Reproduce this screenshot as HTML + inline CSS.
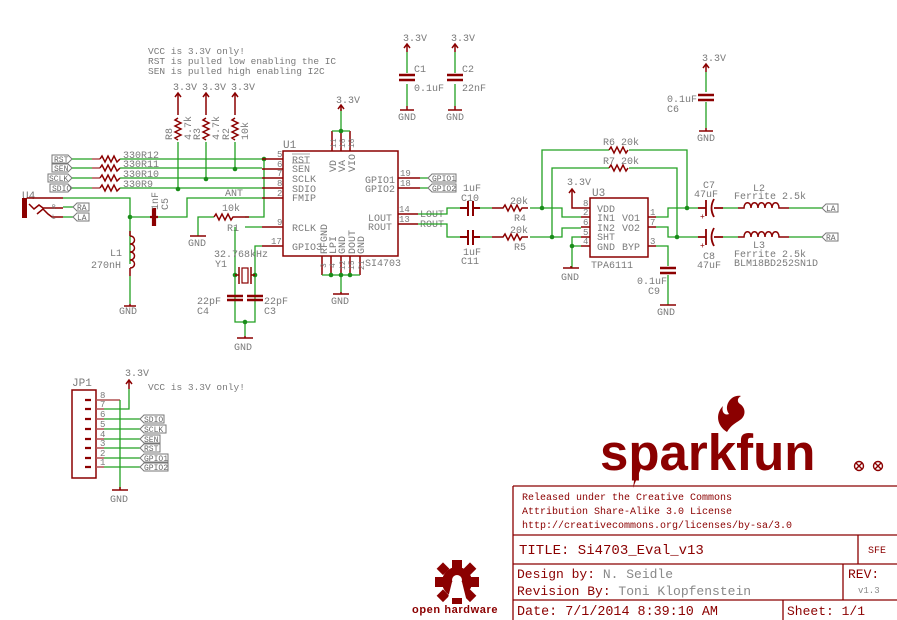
<!DOCTYPE html>
<html><head><meta charset="utf-8"><style>
html,body{margin:0;padding:0;background:#fff;}
svg{display:block;}
text{font-family:"Liberation Mono",monospace;fill:#7a7a7a;font-size:10px;}
.r{fill:none;stroke:#8b0000;stroke-width:1.5;}
.g{fill:none;stroke:#22a022;stroke-width:1.3;}
.p{fill:none;stroke:#b05050;stroke-width:1.5;}
.d{fill:#1a8c1a;}
.fl{fill:#fff;stroke:#777;stroke-width:1;}
.fs{font-size:8px;fill:#666;}
.k{fill:#8b0000;}
.tb text{fill:#8b0000;}
</style></head><body>
<svg width="897" height="620" viewBox="0 0 897 620" xmlns="http://www.w3.org/2000/svg">
<!-- notes -->
<text x="148" y="54" style="font-size:9.5px">VCC is 3.3V only!</text>
<text x="148" y="64" style="font-size:9.5px">RST is pulled low enabling the IC</text>
<text x="148" y="74" style="font-size:9.5px">SEN is pulled high enabling I2C</text>

<!-- pullups -->
<g>
<text x="173" y="90">3.3V</text><text x="202" y="90">3.3V</text><text x="231" y="90">3.3V</text>
<path class="r" d="M178 93v22M175 97l3-4 3 4M206 93v22M203 97l3-4 3 4M235 93v22M232 97l3-4 3 4"/>
<path class="r" d="M178 118l-3 2 6 3-6 3 6 3-6 3 6 3-6 3 3 2M206 118l-3 2 6 3-6 3 6 3-6 3 6 3-6 3 3 2M235 118l-3 2 6 3-6 3 6 3-6 3 6 3-6 3 3 2"/>
<path class="g" d="M178 142v47M206 142v37M235 142v27"/>
<text transform="translate(172,140) rotate(-90)">R8</text><text transform="translate(191,140) rotate(-90)">4.7k</text>
<text transform="translate(200,140) rotate(-90)">R3</text><text transform="translate(219,140) rotate(-90)">4.7k</text>
<text transform="translate(229,140) rotate(-90)">R2</text><text transform="translate(248,140) rotate(-90)">10k</text>
</g>

<!-- left flags -->
<g>
<path class="fl" d="M52 155h16l4 4-4 4h-16z"/><text class="fs" x="54" y="162">RST</text>
<path class="fl" d="M52 164h16l4 4-4 4h-16z"/><text class="fs" x="54" y="171">SEN</text>
<path class="fl" d="M48 174h20l4 4-4 4h-20z"/><text class="fs" x="49" y="181">SCLK</text>
<path class="fl" d="M50 184h18l4 4-4 4h-18z"/><text class="fs" x="52" y="191">SDIO</text>
</g>
<path class="g" d="M72 159h20M72 168h20M72 178h20M72 188h20"/>
<path class="p" d="M92 159h8M92 168h8M92 178h8M92 188h8"/>
<path class="r" d="M100 159l2-3 3 6 3-6 3 6 3-6 3 6 3-3M100 168l2-3 3 6 3-6 3 6 3-6 3 6 3-3M100 178l2-3 3 6 3-6 3 6 3-6 3 6 3-3M100 188l2-3 3 6 3-6 3 6 3-6 3 6 3-3"/>
<text x="123" y="158">330R12</text><text x="123" y="167">330R11</text><text x="123" y="177">330R10</text><text x="123" y="187">330R9</text>
<path class="g" d="M120 159h142M120 168h142M120 178h142M120 188h142"/>
<circle class="d" cx="264" cy="159" r="2.3"/><circle class="d" cx="235" cy="169" r="2.3"/><circle class="d" cx="206" cy="179" r="2.3"/><circle class="d" cx="178" cy="189" r="2.3"/>
<path class="g" d="M264 159v58h-19"/>

<!-- U4 -->
<text x="22" y="199" style="font-size:11px">U4</text>
<rect class="k" x="22" y="198" width="5" height="20"/>
<path class="r" d="M27 198h36M29 204l5 5 5-4 4 3h20M37 214l6-5 5 5 4 3h11"/>
<text class="fs" x="52" y="209" style="font-size:6px">R</text><text class="fs" x="52" y="219" style="font-size:6px">L</text>
<path class="g" d="M63 207h10M63 217h10M63 198h67v66"/>
<path class="fl" d="M73 207l4-4h12v8h-12z"/><text class="fs" x="77" y="210">RA</text>
<path class="fl" d="M73 217l4-4h12v8h-12z"/><text class="fs" x="77" y="220">LA</text>
<circle class="d" cx="130" cy="217" r="2.3"/>
<path class="g" d="M130 217h20M158 217h29v-19h75"/>
<path class="r" d="M150 217h3M155 217h3M153 208v18M155 208v18" style="stroke-width:2.2"/>
<text transform="translate(158,210) rotate(-90)">1nF</text><text transform="translate(168,210) rotate(-90)">C5</text>
<text x="225" y="196">ANT</text>
<!-- L1 -->
<path class="r" d="M130 236c6 0 6 8 0 8c6 0 6 8 0 8c6 0 6 8 0 8c6 0 6 8 0 8M130 231v5M130 268v8"/>
<path class="g" d="M130 276v28"/>
<path class="r" d="M124 306h12M130 304v2"/>
<text x="119" y="314">GND</text>
<text x="110" y="256">L1</text><text x="91" y="268">270nH</text>

<!-- R1 -->
<path class="g" d="M198 236v-19h16"/>
<path class="r" d="M214 217l2-3 3 6 3-6 3 6 3-6 3 6 2-3h16"/>
<path class="r" d="M190 236h16"/><text x="188" y="246">GND</text>
<text x="222" y="211">10k</text><text x="227" y="231">R1</text>

<!-- U1 -->
<text x="283" y="148" style="font-size:11px">U1</text>
<rect x="283" y="151" width="115" height="105" class="r"/>
<path class="r" d="M262 159h21M262 169h21M262 178h21M262 188h21M262 198h21M262 227h21M262 246h21"/>
<text x="277" y="157" style="font-size:9px">5</text><text x="277" y="167" style="font-size:9px">6</text><text x="277" y="176" style="font-size:9px">7</text><text x="277" y="186" style="font-size:9px">8</text><text x="277" y="196" style="font-size:9px">2</text><text x="277" y="225" style="font-size:9px">9</text><text x="271" y="244" style="font-size:9px">17</text>
<text x="292" y="163">RST</text><text x="292" y="172">SEN</text><text x="292" y="182">SCLK</text><text x="292" y="192">SDIO</text><text x="292" y="201">FMIP</text>
<path d="M292 154h18M292 163h18" stroke="#888" stroke-width="0.8"/>
<text x="292" y="231">RCLK</text><text x="292" y="250">GPIO3</text>
<text transform="translate(336,172) rotate(-90)">VD</text><text transform="translate(345,172) rotate(-90)">VA</text><text transform="translate(355,172) rotate(-90)">VIO</text>
<text x="365" y="183">GPIO1</text><text x="365" y="192">GPIO2</text>
<text x="368" y="221">LOUT</text><text x="368" y="230">ROUT</text>
<text transform="translate(327,254) rotate(-90)">RFGND</text><text transform="translate(336,254) rotate(-90)">LPI</text><text transform="translate(345,254) rotate(-90)">GND</text><text transform="translate(355,254) rotate(-90)">DOUT</text><text transform="translate(364,254) rotate(-90)">GND</text>
<text x="365" y="266">SI4703</text>
<path class="r" d="M332 131v20M341 131v20M350 131v20"/>
<text transform="translate(336,148) rotate(-90)" style="font-size:8px">11</text><text transform="translate(345,148) rotate(-90)" style="font-size:8px">16</text><text transform="translate(354,148) rotate(-90)" style="font-size:8px">10</text>
<path class="g" d="M332 131h18M341 131v-22"/><circle class="d" cx="341" cy="131" r="2.3"/>
<path class="r" d="M341 105v6M338 109l3-4 3 4"/><text x="336" y="103">3.3V</text>
<path class="r" d="M322 256v19M331 256v19M341 256v19M350 256v19M360 256v19"/>
<text transform="translate(326,268) rotate(-90)" style="font-size:8px">3</text><text transform="translate(335,268) rotate(-90)" style="font-size:8px">4</text><text transform="translate(345,270) rotate(-90)" style="font-size:8px">12</text><text transform="translate(354,270) rotate(-90)" style="font-size:8px">15</text><text transform="translate(364,270) rotate(-90)" style="font-size:8px">21</text>
<path class="g" d="M322 275h38M341 275v18"/>
<circle class="d" cx="331" cy="275" r="2.3"/><circle class="d" cx="341" cy="275" r="2.3"/><circle class="d" cx="350" cy="275" r="2.3"/>
<path class="r" d="M333 294h16M341 292v2"/><text x="331" y="304">GND</text>

<!-- GPIO flags -->
<path class="r" d="M398 178h22M398 188h22"/>
<text x="400" y="176" style="font-size:9px">19</text><text x="400" y="186" style="font-size:9px">18</text>
<path class="g" d="M420 178h8M420 188h8"/>
<path class="fl" d="M428 178l4-4h24v8h-24z"/><text class="fs" x="432" y="181">GPIO1</text>
<path class="fl" d="M428 188l4-4h24v8h-24z"/><text class="fs" x="432" y="191">GPIO2</text>

<!-- crystal -->
<path class="g" d="M245 227h17M235 227v75M262 246h-7v56"/>
<circle class="d" cx="235" cy="275" r="2.3"/><circle class="d" cx="255" cy="275" r="2.3"/>
<rect x="242" y="268" width="6" height="15" fill="#fff" stroke="#8b0000" stroke-width="1.2"/>
<path class="r" d="M239 267v17M251 267v17M235 275h4M251 275h4"/>
<text x="214" y="257">32.768kHz</text><text x="215" y="267">Y1</text>
<path class="r" d="M227 296h16M227 300h16M247 296h16M247 300h16" style="stroke-width:2.5"/>
<path class="g" d="M235 302v20h20v-20M245 322v14"/>
<circle class="d" cx="245" cy="322" r="2.3"/>
<path class="r" d="M237 338h16M245 336v2"/><text x="234" y="350">GND</text>
<text x="197" y="304">22pF</text><text x="197" y="314">C4</text><text x="264" y="304">22pF</text><text x="264" y="314">C3</text>

<!-- decoupling caps -->
<g>
<text x="403" y="41">3.3V</text><path class="r" d="M407 44v8M404 48l3-4 3 4"/><path class="g" d="M407 52v21M407 84v22"/>
<path class="r" d="M399 75h16M399 80h16" style="stroke-width:2.5"/><path class="r" d="M400 110h14M407 106v4"/><text x="398" y="120">GND</text>
<text x="414" y="72">C1</text><text x="414" y="91">0.1uF</text>
<text x="451" y="41">3.3V</text><path class="r" d="M455 44v8M452 48l3-4 3 4"/><path class="g" d="M455 52v21M455 84v22"/>
<path class="r" d="M447 75h16M447 80h16" style="stroke-width:2.5"/><path class="r" d="M448 110h14M455 106v4"/><text x="446" y="120">GND</text>
<text x="462" y="72">C2</text><text x="462" y="91">22nF</text>
<text x="702" y="61">3.3V</text><path class="r" d="M706 64v8M703 68l3-4 3 4"/><path class="g" d="M706 72v20M706 102v26"/>
<path class="r" d="M698 95h16M698 100h16" style="stroke-width:2.5"/><path class="r" d="M699 131h14M706 128v3"/><text x="697" y="141">GND</text>
<text x="667" y="102">0.1uF</text><text x="667" y="112">C6</text>
</g>

<!-- LOUT/ROUT -->
<path class="r" d="M398 214h20M398 224h20"/>
<text x="399" y="212" style="font-size:9px">14</text><text x="399" y="222" style="font-size:9px">13</text>
<text x="420" y="217">LOUT</text><text x="420" y="227">ROUT</text>
<path class="g" d="M418 214h29v-6h13M418 224h29v13h13"/>
<path class="r" d="M460 208h7M474 208h6M460 237h7M474 237h6M468 201v15M473 201v15M468 230v15M473 230v15" style="stroke-width:2"/>
<text x="463" y="191">1uF</text><text x="461" y="201">C10</text><text x="463" y="255">1uF</text><text x="461" y="264">C11</text>
<path class="g" d="M480 208h12M480 237h12"/>
<path class="r" d="M492 208h11l2-3 3 6 3-6 3 6 3-6 3 6 2-3h6M492 237h11l2-3 3 6 3-6 3 6 3-6 3 6 2-3h6"/>
<text x="510" y="204">20k</text><text x="514" y="221">R4</text><text x="510" y="233">20k</text><text x="514" y="250">R5</text>
<path class="g" d="M530 208h32v9h19M530 237h32v-9h19M542 208v-58h67M552 237v-69h57"/>
<circle class="d" cx="542" cy="208" r="2.3"/><circle class="d" cx="552" cy="237" r="2.3"/>
<path class="r" d="M609 150l2-3 3 6 3-6 3 6 3-6 3 6 2-3M609 168l2-3 3 6 3-6 3 6 3-6 3 6 2-3"/>
<path class="g" d="M629 150h58v58M629 168h48v69"/>
<text x="603" y="145">R6 20k</text><text x="603" y="164">R7 20k</text>

<!-- U3 -->
<text x="592" y="196" style="font-size:11px">U3</text>
<rect x="590" y="198" width="58" height="59" class="r"/>
<path class="r" d="M581 208h9M581 217h9M581 227h9M581 237h9M581 246h9M648 217h8M648 227h8M648 246h8"/>
<text x="583" y="206" style="font-size:9px">8</text><text x="583" y="215" style="font-size:9px">2</text><text x="583" y="225" style="font-size:9px">6</text><text x="583" y="235" style="font-size:9px">5</text><text x="583" y="244" style="font-size:9px">4</text>
<text x="650" y="215" style="font-size:9px">1</text><text x="650" y="225" style="font-size:9px">7</text><text x="650" y="244" style="font-size:9px">3</text>
<text x="597" y="212">VDD</text><text x="597" y="221">IN1</text><text x="597" y="231">IN2</text><text x="597" y="240">SHT</text><text x="597" y="250">GND</text>
<text x="622" y="221">VO1</text><text x="622" y="231">VO2</text><text x="622" y="250">BYP</text>
<text x="591" y="268">TPA6111</text>
<text x="567" y="185">3.3V</text><path class="r" d="M572 189v19h9M569 193l3-4 3 4"/>
<path class="g" d="M581 237h-9v31M572 246h9"/><circle class="d" cx="572" cy="246" r="2.3"/>
<path class="r" d="M563 268h16M571 266v2"/><text x="561" y="280">GND</text>
<!-- C9 -->
<path class="g" d="M656 246h12v20M668 275v30"/>
<path class="r" d="M660 268h16M660 273h16" style="stroke-width:2.5"/>
<path class="r" d="M660 305h16"/><text x="657" y="315">GND</text>
<text x="637" y="284">0.1uF</text><text x="648" y="294">C9</text>
<!-- outputs -->
<path class="g" d="M656 217h12v-9h30M656 227h12v10h30"/>
<circle class="d" cx="687" cy="208" r="2.3"/><circle class="d" cx="677" cy="237" r="2.3"/>
<path class="r" d="M698 208h8M698 237h8M706 200v16M706 229v16M714 199q-5 9 0 18M714 228q-5 9 0 18M714 208h9M714 237h9" style="stroke-width:1.8"/>
<text x="700" y="219" style="font-size:8px;fill:#8b0000">+</text><text x="700" y="248" style="font-size:8px;fill:#8b0000">+</text>
<text x="703" y="188">C7</text><text x="694" y="197">47uF</text><text x="703" y="259">C8</text><text x="697" y="268">47uF</text>
<path class="g" d="M723 208h15M723 237h15"/>
<path class="r" d="M738 208h6c0-7 7-7 7 0c0-7 7-7 7 0c0-7 7-7 7 0c0-7 7-7 7 0c0-7 7-7 7 0h10M738 237h6c0-7 7-7 7 0c0-7 7-7 7 0c0-7 7-7 7 0c0-7 7-7 7 0c0-7 7-7 7 0h10"/>
<text x="753" y="191">L2</text><text x="734" y="199">Ferrite 2.5k</text>
<text x="753" y="248">L3</text><text x="734" y="257">Ferrite 2.5k</text><text x="734" y="266">BLM18BD252SN1D</text>
<path class="g" d="M789 208h33M789 237h33"/>
<path class="fl" d="M822 208l4-4h12v8h-12z"/><text class="fs" x="826" y="211">LA</text>
<path class="fl" d="M822 237l4-4h12v8h-12z"/><text class="fs" x="826" y="240">RA</text>

<!-- JP1 -->
<text x="72" y="386" style="font-size:11px">JP1</text>
<rect x="72" y="390" width="24" height="88" class="r"/>
<path class="r" d="M85 400h6M85 409h6M85 419h6M85 429h6M85 439h6M85 448h6M85 458h6M85 467h6" style="stroke-width:2.2"/>
<path class="p" d="M96 400h24M96 409h8M96 419h8M96 429h8M96 439h8M96 448h8M96 458h8M96 467h8"/>
<text x="100" y="398" style="font-size:9px">8</text><text x="100" y="407" style="font-size:9px">7</text><text x="100" y="417" style="font-size:9px">6</text><text x="100" y="427" style="font-size:9px">5</text><text x="100" y="437" style="font-size:9px">4</text><text x="100" y="446" style="font-size:9px">3</text><text x="100" y="456" style="font-size:9px">2</text><text x="100" y="465" style="font-size:9px">1</text>
<path class="g" d="M104 409h25v-20M104 419h36M104 429h36M104 439h36M104 448h36M104 458h36M104 467h36M120 400v90"/>
<path class="r" d="M129 380v9M126 384l3-4 3 4"/><text x="125" y="376">3.3V</text>
<text x="148" y="390" style="font-size:9.5px">VCC is 3.3V only!</text>
<path class="fl" d="M140 419l4-4h20v8h-20z"/><text class="fs" x="144" y="422">SDIO</text>
<path class="fl" d="M140 429l4-4h22v8h-22z"/><text class="fs" x="144" y="432">SCLK</text>
<path class="fl" d="M140 439l4-4h16v8h-16z"/><text class="fs" x="144" y="442">SEN</text>
<path class="fl" d="M140 448l4-4h16v8h-16z"/><text class="fs" x="144" y="451">RST</text>
<path class="fl" d="M140 458l4-4h24v8h-24z"/><text class="fs" x="144" y="461">GPIO1</text>
<path class="fl" d="M140 467l4-4h24v8h-24z"/><text class="fs" x="144" y="470">GPIO2</text>
<path class="r" d="M112 490h16M120 487v3"/><text x="110" y="502">GND</text>

<!-- sparkfun logo -->
<text x="600" y="470" style="font-family:'Liberation Sans',sans-serif;font-weight:bold;font-size:51px;fill:#8b0000;letter-spacing:0px">sparkfun</text>
<path class="k" d="M727 432c-10-6-12-18-4-26c-2 6 2 10 6 8c-6-8 2-20 12-18c-4 2-4 6-1 8c6 4 6 12 0 16c-4 3-9 5-13 12z"/>
<path class="k" d="M637 460l-4 28 8-20z"/>
<g fill="none" stroke="#8b0000" stroke-width="1.4"><circle cx="859" cy="466" r="4.5"/><circle cx="878" cy="466" r="4.5"/><path d="M856 463l6 6M862 463l-6 6M875 463l6 6M881 463l-6 6"/></g>

<!-- title block -->
<g class="tb">
<path fill="none" stroke="#8b0000" stroke-width="1.3" d="M513 486h384M513 486v134M513 535h384M513 564h384M513 600h384M858 535v29M843 564v36M783 600v20"/>
<text x="522" y="500" style="font-size:10px">Released under the Creative Commons</text>
<text x="522" y="514" style="font-size:10px">Attribution Share-Alike 3.0 License</text>
<text x="522" y="528" style="font-size:10px">http://creativecommons.org/licenses/by-sa/3.0</text>
<text x="519" y="554" style="font-size:14px">TITLE: Si4703_Eval_v13</text>
<text x="868" y="553" style="font-size:10px">SFE</text>
<text x="517" y="578" style="font-size:13px">Design by: <tspan style="fill:#888">N. Seidle</tspan></text>
<text x="517" y="595" style="font-size:13px">Revision By: <tspan style="fill:#888">Toni Klopfenstein</tspan></text>
<text x="848" y="578" style="font-size:13px">REV:</text>
<text x="858" y="593" style="font-size:9px;fill:#888">v1.3</text>
<text x="517" y="615" style="font-size:13.4px">Date: 7/1/2014 8:39:10 AM</text>
<text x="787" y="615" style="font-size:13px">Sheet: 1/1</text>
</g>

<!-- open hardware -->
<g fill="#8b0000">
<circle cx="457" cy="582" r="15"/>
<rect x="452" y="560" width="10" height="8"/><rect x="452" y="596" width="10" height="8"/>
<rect x="435" y="577" width="8" height="10"/><rect x="471" y="577" width="8" height="10"/>
<rect x="439" y="564" width="9" height="9" transform="rotate(45 443 568)"/><rect x="466" y="564" width="9" height="9" transform="rotate(45 470 568)"/>
<rect x="439" y="591" width="9" height="9" transform="rotate(45 443 595)"/><rect x="466" y="591" width="9" height="9" transform="rotate(45 470 595)"/>
</g>
<circle cx="457" cy="580" r="5" fill="#fff"/><path d="M452 582l-4 16h18l-4-16z" fill="#fff"/>
<text x="412" y="613" style="font-family:'Liberation Sans',sans-serif;font-weight:bold;font-size:11px;letter-spacing:0.6px;fill:#8b0000">open hardware</text>
</svg>
</body></html>
